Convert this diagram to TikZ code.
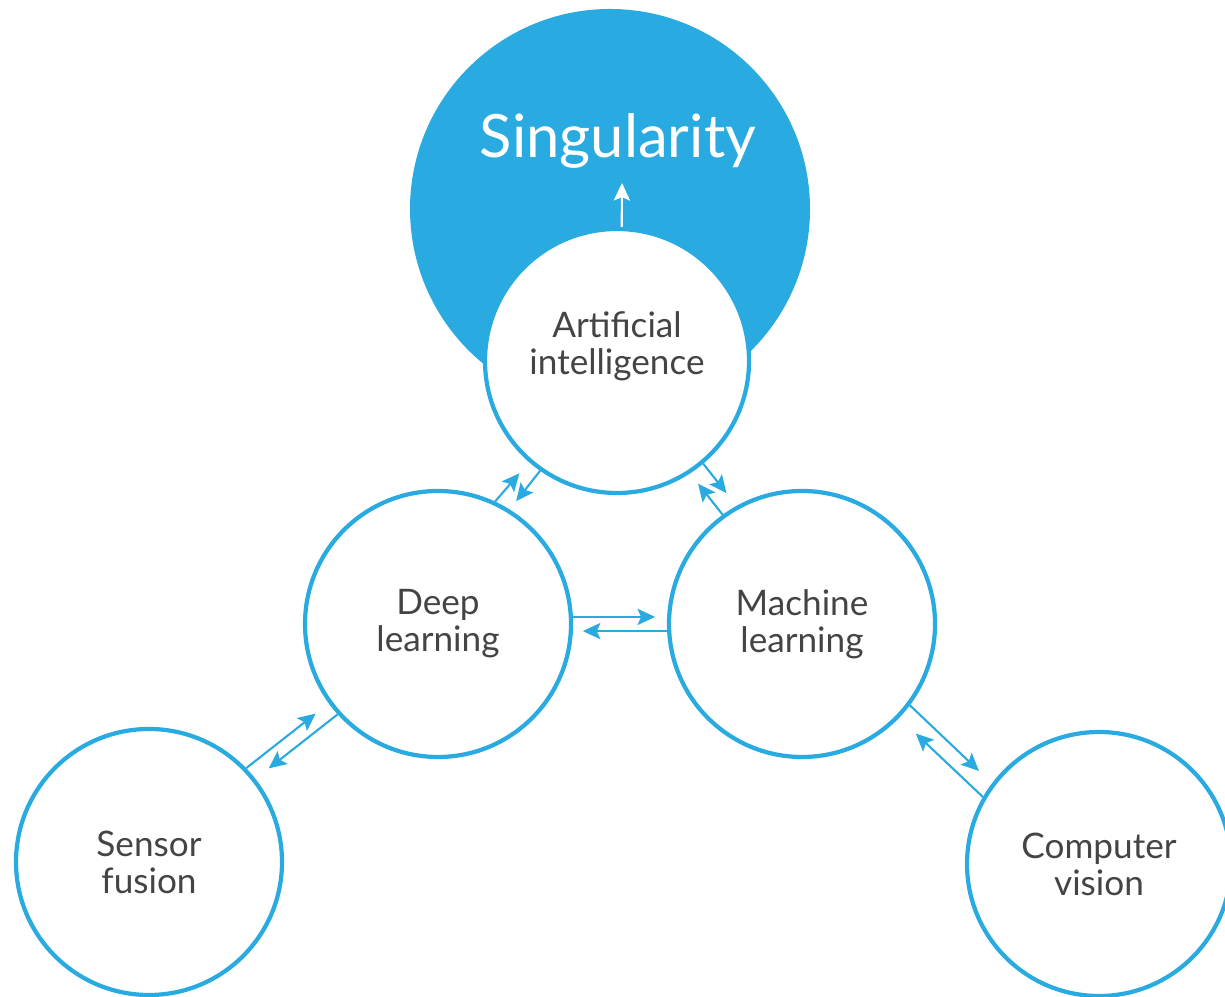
\documentclass[tikz,border=0pt]{standalone}
\usepackage{fontspec}
\setmainfont{Lato}
\usepackage{tikz}
\usetikzlibrary{arrows.meta,calc}
\usepackage{xcolor}
\definecolor{skyblue}{HTML}{29ABE2}
\definecolor{inkgray}{HTML}{444444}

\begin{document}
\begin{tikzpicture}[
  bubble/.style={circle,draw=skyblue,line width=1.2pt,fill=white,minimum size=2*#1 cm,inner sep=0pt,
                 align=center,text=inkgray,font=\fontsize{10}{10.5}\selectfont},
  bubble/.default=1.33,
  hub/.style={circle,fill=skyblue,minimum size=4cm,inner sep=0pt},
  link/.style={draw=skyblue,line width=0.6pt,-{Stealth[length=5pt,width=4.6pt,inset=1pt]},shorten >=#1},
  link/.default=4pt
  ]
\useasboundingbox (0,0) rectangle (12.25,9.97);
\node[hub] (SG) at (6.10,7.88){};                                   % big disc
\node[text=white,font=\fontsize{17}{18}\selectfont] (SGtext) at (6.18,8.56){Singularity};
\node[bubble=1.32] (AI) at (6.17,6.36){};                           % top circle
\node[align=center,text=inkgray,font=\fontsize{10}{10.5}\selectfont] (AItext) at (6.17,6.51){Artificial\\intelligence};
\node[bubble] (DL) at (4.38,3.73){Deep\\learning};
\node[bubble] (ML) at (8.02,3.73){Machine\\learning};
\node[bubble] (SF) at (1.49,1.35){Sensor\\fusion};
\node[bubble=1.32] (CV) at (10.99,1.33){Computer\\vision};
\coordinate (sgtip) at (6.22,8.14);                                 % arrow end inside the disc
\draw[link=0pt,draw=white] (AI.88) -- (sgtip);
\draw[link=4.2pt] (DL.65) -- (AI.229);
\draw[link=3pt] (AI.235) -- (DL.58);
\draw[link=4.6pt] (AI.310) -- (ML.119);
\draw[link=3.7pt] (ML.126) -- (AI.303);
\draw[link=3.4pt] (DL.3) -- (ML.177);
\draw[link=2.8pt] (ML.183) -- (DL.357);
\draw[link=4.7pt] (SF.44) -- (DL.216);
\draw[link=4.8pt] (DL.222) -- (SF.38);
\draw[link=5.1pt] (ML.323) -- (CV.143);
\draw[link=6.5pt] (CV.150) -- (ML.316);
\end{tikzpicture}
\end{document}
